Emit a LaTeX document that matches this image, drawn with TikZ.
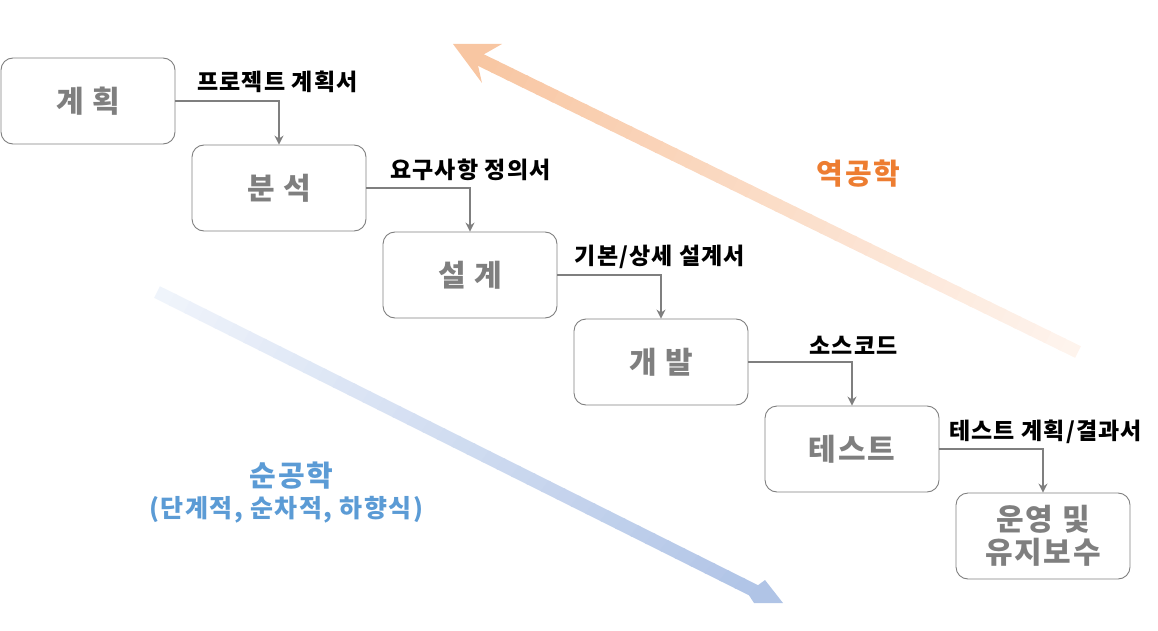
\documentclass[tikz,border=0pt]{standalone}
\usepackage{fontspec}
\setmainfont{Noto Sans CJK KR}
\usetikzlibrary{arrows.meta,calc}
\definecolor{boxgray}{HTML}{7F7F7F}
\definecolor{ornghead}{HTML}{F8C6A2}
\definecolor{orngtail}{HTML}{FEF4EE}
\definecolor{bluehead}{HTML}{B0C4E6}
\definecolor{bluetail}{HTML}{F0F4FB}
\definecolor{revtxt}{HTML}{ED7D31}
\definecolor{fwdtxt}{HTML}{5B9BD5}
\begin{document}
\begin{tikzpicture}[x=1pt,y=-1pt,
  stage/.style={draw=boxgray, line width=0.9pt, rounded corners=12pt,
    minimum width=174pt, minimum height=86pt, inner sep=0pt,
    font=\fontsize{30}{33}\selectfont\bfseries\addfontfeatures{LetterSpace=6},
    text=boxgray, align=center},
  flow/.style={draw=boxgray, line width=1.1pt,
    -{Stealth[length=9pt,width=9pt,inset=3pt]}},
  doc/.style={font=\fontsize{23}{26}\selectfont\bfseries\addfontfeatures{LetterSpace=5},
    text=black, inner sep=0pt},
  big/.style={font=\fontsize{29}{32}\selectfont\bfseries\addfontfeatures{LetterSpace=6},
    inner sep=0pt}
]
\useasboundingbox (0,0) rectangle (1158,631);

% ---- reverse engineering arrow (orange, pointing up-left)
\coordinate (oTT) at (1080.9,346.2);
\coordinate (oTB) at (1075.1,357.8);
\coordinate (oHT) at (483.9,54.3);
\coordinate (oHB) at (478.1,65.9);
\foreach \k in {0,...,39}{
  \pgfmathsetmacro\a{\k/40}
  \pgfmathsetmacro\b{(\k+1.15)/40}
  \pgfmathtruncatemacro\p{100*(\k+0.5)/40}
  \fill[ornghead!\p!orngtail] ($(oTT)!\a!(oHT)$) -- ($(oTT)!\b!(oHT)$)
     -- ($(oTB)!\b!(oHB)$) -- ($(oTB)!\a!(oHB)$) -- cycle;
}
\fill[ornghead] (453,44) -- (502,44) -- (oHT) -- (oHB) -- (482,83) -- cycle;

% ---- forward engineering arrow (blue, pointing down-right)
\coordinate (bTT) at (159.9,286.2);
\coordinate (bTB) at (154.1,297.8);
\coordinate (bHT) at (758,585.2);
\coordinate (bHB) at (749,595.3);
\foreach \k in {0,...,39}{
  \pgfmathsetmacro\a{\k/40}
  \pgfmathsetmacro\b{(\k+1.15)/40}
  \pgfmathtruncatemacro\p{100*(\k+0.5)/40}
  \fill[bluehead!\p!bluetail] ($(bTT)!\a!(bHT)$) -- ($(bTT)!\b!(bHT)$)
     -- ($(bTB)!\b!(bHB)$) -- ($(bTB)!\a!(bHB)$) -- cycle;
}
\fill[bluehead] (bHT) -- (765,580) -- (783,603) -- (754,603) -- (bHB) -- cycle;

% ---- stages
\node[stage] (plan) at (88,101) {계 획};
\node[stage] (anal) at (279,188) {분 석};
\node[stage] (desg) at (470,275) {설 계};
\node[stage] (devl) at (661,362) {개 발};
\node[stage] (test) at (852,449) {테스트};
\node[stage] (oper) at (1043,536) {운영 및\\유지보수};

\draw[flow] (plan.east) -| (anal.north);
\draw[flow] (anal.east) -| (desg.north);
\draw[flow] (desg.east) -| (devl.north);
\draw[flow] (devl.east) -| (test.north);
\draw[flow] (test.east) -| (oper.north);

\node[doc] (d1) at (277.5,82) {프로젝트 계획서};
\node[doc] (d2) at (470.5,170) {요구사항 정의서};
\node[doc] (d3) at (660,256.5) {기본/상세 설계서};
\node[doc] (d4) at (853.5,345) {소스코드};
\node[doc] (d5) at (1045.5,432) {테스트 계획/결과서};

\node[big, text=revtxt] (rev) at (858.5,174) {역공학};
\node[big, text=fwdtxt] (fwd) at (291.5,476) {순공학};
\node[font=\fontsize{25}{28}\selectfont\bfseries\addfontfeatures{LetterSpace=6},
  inner sep=0pt, text=fwdtxt] (fwdsub) at (286,510) {(단계적, 순차적, 하향식)};
\end{tikzpicture}
\end{document}
